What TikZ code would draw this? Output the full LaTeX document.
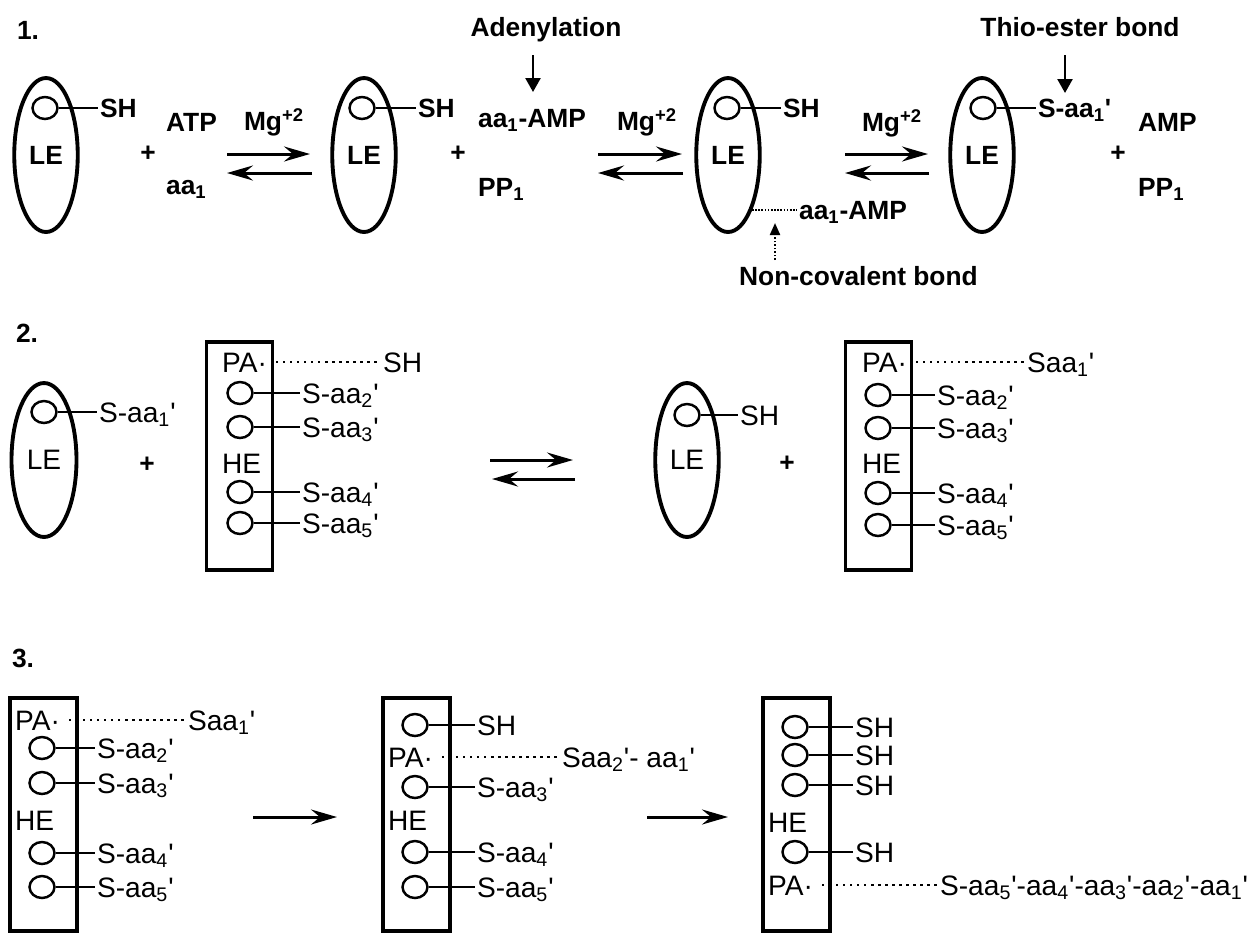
\documentclass[tikz,border=0pt]{standalone}
\usepackage{fontspec}
\setmainfont{Liberation Sans}
\usetikzlibrary{shapes.geometric,arrows.meta}
\newcommand{\sbs}[1]{\textsubscript{#1}}
\newcommand{\pr}{\textquotesingle}
\tikzset{
    fontA/.style={font=\fontsize{15}{18}\selectfont\bfseries},
    fontB/.style={font=\fontsize{16}{19}\selectfont},
    enzyme/.style={ellipse, draw, line width=2.2pt, minimum width=1.27cm, minimum height=3.08cm, inner sep=0pt},
    carrier/.style={rectangle, draw, line width=2.2pt, minimum width=1.32cm, inner sep=0pt},
    site/.style={ellipse, draw, line width=1.4pt, minimum width=0.5cm, minimum height=0.44cm, inner sep=0pt},
    txtB/.style={fontA, anchor=west, inner sep=1pt, text height=14.7pt, text depth=4pt},
    txt/.style={fontB, anchor=west, inner sep=1pt, text height=15.5pt, text depth=4pt},
    bond/.style={line width=1.2pt},
    ncbond/.style={line width=1.3pt, dash pattern=on 1.3pt off 2.7pt, shorten <=4pt},
    ncthin/.style={line width=0.9pt, dash pattern=on 0.9pt off 0.9pt},
    rxn/.style={line width=1.7pt, -{Stealth[length=0.52cm, width=0.3cm, inset=0.18cm]}},
    pointer/.style={line width=1.4pt, -{Triangle[length=0.28cm, width=0.3cm]}},
    pointerD/.style={line width=1.2pt, dash pattern=on 1pt off 1pt, -{Triangle[length=0.24cm, width=0.2cm]}},
}
\begin{document}
\begin{tikzpicture}[x=0.02cm, y=-0.02cm]
    \useasboundingbox (0,0) rectangle (1250,934);

    % Step 1: loading of the light enzyme
    \node[txtB, anchor=center] (num1) at (28,30) {1.};
    \node[enzyme, fontA] (LE1) at (46,155) {LE};
    \node[site] (s1) at (45,108) {};
    \node[txtB] (sh1) at (98,108) {SH};
    \draw[bond] (s1.east) -- (sh1.west);
    \node[txtB, anchor=center] (plus1) at (148,152) {+};
    \node[txtB] (atp) at (164,122) {ATP};
    \node[txtB] (aa1) at (164,185) {aa\sbs{1}};

    \node[txtB, anchor=center] (mg1) at (274,121) {Mg\textsuperscript{+2}};
    \coordinate (f1a) at (227,154); \coordinate (f1b) at (310,154);
    \coordinate (b1a) at (312,173); \coordinate (b1b) at (227,173);
    \draw[rxn] (f1a) -- (f1b);
    \draw[rxn] (b1a) -- (b1b);

    \node[enzyme, fontA] (LE2) at (364,155) {LE};
    \node[site] (s2) at (362,108) {};
    \node[txtB] (sh2) at (416,108) {SH};
    \draw[bond] (s2.east) -- (sh2.west);
    \node[txtB, anchor=center] (plus2) at (458,152) {+};
    \node[txtB] (amp1) at (476,118) {aa\sbs{1}-AMP};
    \node[txtB] (pp1) at (476,187) {PP\sbs{1}};
    \node[txtB, anchor=center] (aden) at (546,27) {Adenylation};
    \coordinate (ad0) at (533,55); \coordinate (ad1) at (533,92);
    \draw[pointer] (ad0) -- (ad1);

    \node[txtB, anchor=center] (mg2) at (647,121) {Mg\textsuperscript{+2}};
    \coordinate (f2a) at (598,154); \coordinate (f2b) at (682,154);
    \coordinate (b2a) at (683,173); \coordinate (b2b) at (598,173);
    \draw[rxn] (f2a) -- (f2b);
    \draw[rxn] (b2a) -- (b2b);

    \node[enzyme, fontA] (LE3) at (728,155) {LE};
    \node[site] (s3) at (727,108) {};
    \node[txtB] (sh3) at (781,108) {SH};
    \draw[bond] (s3.east) -- (sh3.west);
    \node[txtB] (amp2) at (797,210) {aa\sbs{1}-AMP};
    \coordinate (nc0) at (752,210);
    \draw[ncthin] (nc0) -- (amp2.west);
    \node[txtB] (ncb) at (737,276) {Non-covalent bond};
    \coordinate (nb0) at (775,260); \coordinate (nb1) at (775,223);
    \draw[pointerD] (nb0) -- (nb1);

    \node[txtB, anchor=center] (mg3) at (892,122) {Mg\textsuperscript{+2}};
    \coordinate (f3a) at (845,154); \coordinate (f3b) at (928,154);
    \coordinate (b3a) at (929,173); \coordinate (b3b) at (845,173);
    \draw[rxn] (f3a) -- (f3b);
    \draw[rxn] (b3a) -- (b3b);

    \node[enzyme, fontA] (LE4) at (982,155) {LE};
    \node[site] (s4) at (983,108) {};
    \node[txtB] (saa1) at (1036,108) {S-aa\sbs{1}\pr};
    \draw[bond] (s4.east) -- (saa1.west);
    \node[txtB] (amp3) at (1136,122) {AMP};
    \node[txtB, anchor=center] (plus3) at (1118,152) {+};
    \node[txtB] (pp2) at (1136,187) {PP\sbs{1}};
    \node[txtB, anchor=center] (thio) at (1080,27) {Thio-ester bond};
    \coordinate (th0) at (1065,55); \coordinate (th1) at (1065,93);
    \draw[pointer] (th0) -- (th1);

    % Step 2: transfer to the heavy enzyme
    \node[txtB, anchor=center] (num2) at (27,333) {2.};
    \node[enzyme, fontB, minimum width=1.3cm] (LE5) at (44,460) {LE};
    \node[site] (s5) at (44,412) {};
    \node[txt] (t5) at (97,412) {S-aa\sbs{1}\pr};
    \draw[bond] (s5.east) -- (t5.west);
    \node[txtB, anchor=center] (plus4) at (147,463) {+};

    \node[carrier, minimum height=4.56cm] (HE1) at (239.5,456) {};
    \node[txt] (pa1) at (220,362) {PA·};
    \node[txt] (t6) at (381,362) {SH};
    \draw[ncbond] (pa1.east) -- (t6.west);
    \node[site] (a1) at (240,393) {};
    \node[txt] (ta1) at (300,393) {S-aa\sbs{2}\pr};
    \draw[bond] (a1.east) -- (ta1.west);
    \node[site] (a2) at (240,427) {};
    \node[txt] (ta2) at (300,427) {S-aa\sbs{3}\pr};
    \draw[bond] (a2.east) -- (ta2.west);
    \node[txt] (he1) at (220,463) {HE};
    \node[site] (a3) at (240,492) {};
    \node[txt] (ta3) at (300,492) {S-aa\sbs{4}\pr};
    \draw[bond] (a3.east) -- (ta3.west);
    \node[site] (a4) at (240,523) {};
    \node[txt] (ta4) at (300,523) {S-aa\sbs{5}\pr};
    \draw[bond] (a4.east) -- (ta4.west);

    \coordinate (f4a) at (490,460); \coordinate (f4b) at (573,460);
    \coordinate (b4a) at (575,479); \coordinate (b4b) at (492,479);
    \draw[rxn] (f4a) -- (f4b);
    \draw[rxn] (b4a) -- (b4b);

    \node[enzyme, fontB] (LE6) at (687,460) {LE};
    \node[site] (s6) at (687,415) {};
    \node[txt] (t7) at (738,415) {SH};
    \draw[bond] (s6.east) -- (t7.west);
    \node[txtB, anchor=center] (plus5) at (787,462) {+};

    \node[carrier, minimum height=4.56cm] (HE2) at (878.5,456) {};
    \node[txt] (pa2) at (860,362) {PA·};
    \node[txt] (t8) at (1025,362) {Saa\sbs{1}\pr};
    \draw[ncbond] (pa2.east) -- (t8.west);
    \node[site] (b1) at (878,395) {};
    \node[txt] (tb1) at (935,395) {S-aa\sbs{2}\pr};
    \draw[bond] (b1.east) -- (tb1.west);
    \node[site] (b2) at (878,428) {};
    \node[txt] (tb2) at (935,428) {S-aa\sbs{3}\pr};
    \draw[bond] (b2.east) -- (tb2.west);
    \node[txt] (he2) at (860,463) {HE};
    \node[site] (b3) at (878,493) {};
    \node[txt] (tb3) at (935,493) {S-aa\sbs{4}\pr};
    \draw[bond] (b3.east) -- (tb3.west);
    \node[site] (b4) at (878,525) {};
    \node[txt] (tb4) at (935,525) {S-aa\sbs{5}\pr};
    \draw[bond] (b4.east) -- (tb4.west);

    % Step 3: chain elongation on the heavy enzyme
    \node[txtB, anchor=center] (num3) at (23,658) {3.};
    \node[carrier, minimum width=1.34cm, minimum height=4.66cm] (HE3) at (43.5,814.5) {};
    \node[txt] (pa3) at (13,720) {PA·};
    \node[txt] (t9) at (186,720) {Saa\sbs{1}\pr};
    \draw[ncbond] (pa3.east) -- (t9.west);
    \node[site] (c1) at (42,748) {};
    \node[txt] (tc1) at (95,748) {S-aa\sbs{2}\pr};
    \draw[bond] (c1.east) -- (tc1.west);
    \node[site] (c2) at (42,783) {};
    \node[txt] (tc2) at (95,783) {S-aa\sbs{3}\pr};
    \draw[bond] (c2.east) -- (tc2.west);
    \node[txt] (he3) at (13,820) {HE};
    \node[site] (c3) at (42,853) {};
    \node[txt] (tc3) at (95,853) {S-aa\sbs{4}\pr};
    \draw[bond] (c3.east) -- (tc3.west);
    \node[site] (c4) at (42,887) {};
    \node[txt] (tc4) at (95,887) {S-aa\sbs{5}\pr};
    \draw[bond] (c4.east) -- (tc4.west);

    \coordinate (f5a) at (253,817); \coordinate (f5b) at (337,817);
    \draw[rxn] (f5a) -- (f5b);

    \node[carrier, minimum width=1.34cm, minimum height=4.66cm] (HE4) at (416.5,814.5) {};
    \node[site] (d1) at (415,725) {};
    \node[txt] (td1) at (475,725) {SH};
    \draw[bond] (d1.east) -- (td1.west);
    \node[txt] (pa4) at (386,757) {PA·};
    \node[txt] (t10) at (560,757) {Saa\sbs{2}\pr- aa\sbs{1}\pr};
    \draw[ncbond] (pa4.east) -- (t10.west);
    \node[site] (d2) at (415,787) {};
    \node[txt] (td2) at (475,787) {S-aa\sbs{3}\pr};
    \draw[bond] (d2.east) -- (td2.west);
    \node[txt] (he4) at (386,820) {HE};
    \node[site] (d3) at (415,852) {};
    \node[txt] (td3) at (475,852) {S-aa\sbs{4}\pr};
    \draw[bond] (d3.east) -- (td3.west);
    \node[site] (d4) at (415,887) {};
    \node[txt] (td4) at (475,887) {S-aa\sbs{5}\pr};
    \draw[bond] (d4.east) -- (td4.west);

    \coordinate (f6a) at (647,817); \coordinate (f6b) at (728,817);
    \draw[rxn] (f6a) -- (f6b);

    \node[carrier, minimum width=1.34cm, minimum height=4.66cm] (HE5) at (796.5,814.5) {};
    \node[site] (e1) at (795,727) {};
    \node[txt] (te1) at (853,727) {SH};
    \draw[bond] (e1.east) -- (te1.west);
    \node[site] (e2) at (795,755) {};
    \node[txt] (te2) at (853,755) {SH};
    \draw[bond] (e2.east) -- (te2.west);
    \node[site] (e3) at (795,785) {};
    \node[txt] (te3) at (853,785) {SH};
    \draw[bond] (e3.east) -- (te3.west);
    \node[txt] (he5) at (766,822) {HE};
    \node[site] (e4) at (795,852) {};
    \node[txt] (te4) at (853,852) {SH};
    \draw[bond] (e4.east) -- (te4.west);
    \node[txt] (pa5) at (766,885) {PA·};
    \node[txt] (t11) at (938,885) {S-aa\sbs{5}\pr-aa\sbs{4}\pr-aa\sbs{3}\pr-aa\sbs{2}\pr-aa\sbs{1}\pr};
    \draw[ncbond] (pa5.east) -- (t11.west);
\end{tikzpicture}
\end{document}
